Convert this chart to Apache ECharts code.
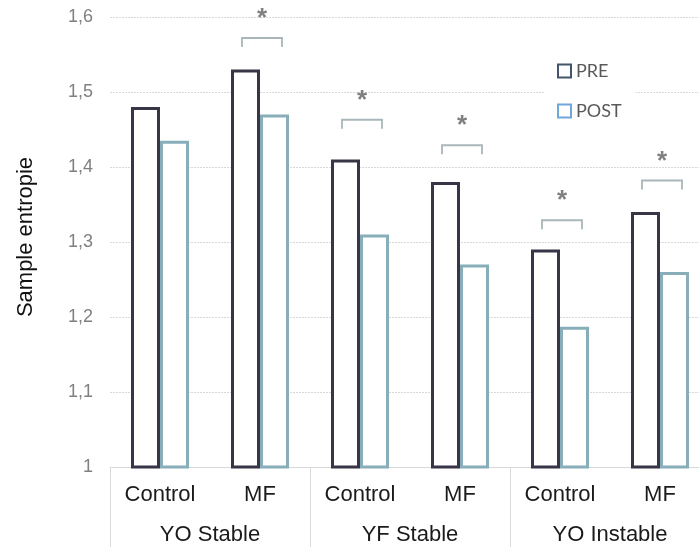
<!DOCTYPE html>
<html>
<head>
<meta charset="utf-8">
<script src="https://cdn.jsdelivr.net/npm/echarts@6/dist/echarts.min.js"></script>
<style>html,body{margin:0;padding:0;background:#fff;}#c{width:699px;height:547px;}</style>
</head>
<body>
<div id="c"></div>
<script>
// Data
const subCategories = ['Control', 'MF', 'Control', 'MF', 'Control', 'MF'];
const groups = ['YO Stable', 'YF Stable', 'YO Instable'];
const preValues = [1.48, 1.53, 1.41, 1.38, 1.29, 1.34];
const postValues = [1.435, 1.47, 1.31, 1.27, 1.187, 1.26];
// significance brackets: [category index, bracket level]
const bracketCats = [1, 2, 3, 4, 5];
const bracketLevels = [1.572, 1.463, 1.429, 1.329, 1.382];
const yTicks = { min: 1, max: 1.6, interval: 0.1 };

const PRE_COLOR = '#373546';
const POST_COLOR = '#87aeb9';
const FONT = '"Liberation Sans", Arial, sans-serif';

const chart = echarts.init(document.getElementById('c'), null, { renderer: 'canvas' });
const bracketData = bracketCats.map((c, i) => [c, bracketLevels[i]]);

chart.setOption({
  animation: false,
  backgroundColor: '#fff',
  grid: { left: 110, top: 17, width: 600, height: 450, containLabel: false, outerBoundsMode: 'none' },
  legend: {
    orient: 'vertical',
    left: 545,
    top: 53,
    backgroundColor: '#fff',
    padding: [8, 14, 8, 12],
    itemWidth: 13,
    itemHeight: 13,
    itemGap: 20,
    icon: 'rect',
    textStyle: { fontSize: 18, color: '#595959', fontFamily: 'Lato, "Open Sans", sans-serif', lineHeight: 20 },
    data: [
      { name: 'PRE', itemStyle: { color: '#fff', borderColor: '#44546a', borderWidth: 2 } },
      { name: 'POST', itemStyle: { color: '#fff', borderColor: '#6fa6dc', borderWidth: 2 } }
    ]
  },
  xAxis: [
    {
      type: 'category',
      data: subCategories,
      position: 'bottom',
      axisLine: { show: true, lineStyle: { color: '#d9d9d9', width: 1 } },
      axisTick: { show: false },
      axisLabel: { interval: 0, margin: 17, fontSize: 22, color: '#1a1a1a', fontFamily: FONT },
      splitLine: { show: false }
    },
    {
      type: 'category',
      data: groups,
      position: 'bottom',
      axisLine: { show: false },
      axisTick: { show: true, length: 80, interval: 0, lineStyle: { color: '#d9d9d9', width: 1 } },
      axisLabel: { interval: 0, margin: 57, fontSize: 22, color: '#1a1a1a', fontFamily: FONT },
      splitLine: { show: false }
    }
  ],
  yAxis: {
    type: 'value',
    min: yTicks.min,
    max: yTicks.max,
    interval: yTicks.interval,
    name: 'Sample entropie',
    nameLocation: 'middle',
    nameGap: 73,
    nameTextStyle: { fontSize: 22, color: '#111', fontFamily: FONT, padding: [0, 0, 0, 10] },
    axisLine: { show: false },
    axisTick: { show: false },
    axisLabel: {
      margin: 17, fontSize: 18, color: '#808080', fontFamily: FONT,
      formatter: v => String(+v.toFixed(1)).replace('.', ',')
    },
    splitLine: { show: true, lineStyle: { color: '#d9d9d9', type: [2, 1], width: 1 } }
  },
  series: [
    {
      name: 'PRE', type: 'bar', xAxisIndex: 0, data: preValues,
      barWidth: 29, barGap: '0%',
      itemStyle: { color: '#fff', borderColor: PRE_COLOR, borderWidth: 3, borderJoin: 'miter' }
    },
    {
      name: 'POST', type: 'bar', xAxisIndex: 0, data: postValues,
      barWidth: 29, barGap: '0%',
      itemStyle: { color: '#fff', borderColor: POST_COLOR, borderWidth: 3, borderJoin: 'miter' }
    },
    {
      type: 'custom', xAxisIndex: 0, data: bracketData, z: 5, silent: true,
      renderItem: function (params, api) {
        const p = api.coord([api.value(0), api.value(1)]);
        const x = p[0] + 2, y = p[1];
        return {
          type: 'group',
          children: [
            {
              type: 'polyline',
              shape: { points: [[x - 20, y + 9], [x - 20, y], [x + 20, y], [x + 20, y + 9]] },
              style: { stroke: '#a9b7ba', lineWidth: 1.8, fill: null }
            },
            {
              type: 'text',
              style: { x: x, y: y - 19, text: '*', fontSize: 26, fontWeight: 'bold', fill: '#808080', fontFamily: FONT, align: 'center', verticalAlign: 'middle' }
            }
          ]
        };
      }
    }
  ]
});
</script>
</body>
</html>
